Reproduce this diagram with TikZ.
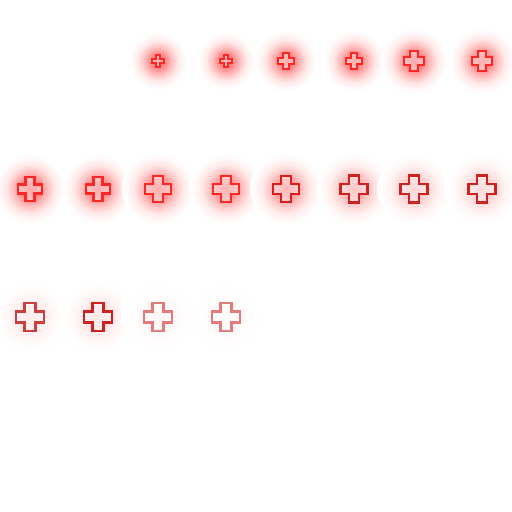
\documentclass[tikz,border=0pt]{standalone}
\usetikzlibrary{calc}
\definecolor{hotred}{RGB}{255,38,38}
\definecolor{midred}{RGB}{222,28,28}
\definecolor{darkred}{RGB}{204,34,34}
\definecolor{dullred}{RGB}{206,62,62}
\definecolor{palered}{RGB}{226,124,124}
\colorlet{glowc}{red}
\pgfdeclareradialshading[glowc]{glow}{\pgfpointorigin}{color(0bp)=(glowc); color(7bp)=(glowc!75!white); color(12bp)=(glowc!42!white); color(17bp)=(glowc!16!white); color(22bp)=(glowc!4!white); color(25bp)=(white); color(50bp)=(white)}
% glowing cross: x, y, size, glow strength, line colour
\newcommand{\glowcross}[5]{%
  \colorlet{glowc}{red!#4!white}
  \shade[shading=glow] (#1,#2) circle ({#3*0.5+23});
  \begin{scope}[shift={(#1,#2)}, scale=#3]
    \draw[line width=2.4pt, #5, fill=white, fill opacity=0.45, draw opacity=1]
      (-0.19,-0.5) -- (0.19,-0.5) -- (0.19,-0.19) -- (0.5,-0.19) -- (0.5,0.19) -- (0.19,0.19)
      -- (0.19,0.5) -- (-0.19,0.5) -- (-0.19,0.19) -- (-0.5,0.19) -- (-0.5,-0.19) -- (-0.19,-0.19) -- cycle;
  \end{scope}}

\begin{document}
\begin{tikzpicture}[x=1pt,y=-1pt]
  \useasboundingbox (0,0) rectangle (512,512);
  % first row
  \glowcross{158}{61}{12}{58}{hotred}
  \glowcross{226}{61}{12}{58}{hotred}
  \glowcross{286}{61}{16}{58}{hotred}
  \glowcross{354}{61}{16}{58}{hotred}
  \glowcross{414}{61}{20}{62}{hotred}
  \glowcross{482}{61}{20}{58}{hotred}
  % second row
  \glowcross{30}{189}{24}{62}{hotred}
  \glowcross{98}{189}{24}{58}{hotred}
  \glowcross{158}{189}{26}{58}{hotred}
  \glowcross{226}{189}{26}{54}{hotred}
  \glowcross{286}{189}{26}{50}{midred}
  \glowcross{354}{189}{27}{40}{darkred}
  \glowcross{414}{189}{27}{28}{darkred}
  \glowcross{482}{189}{27}{24}{darkred}
  % third row
  \glowcross{30}{317}{28}{13}{dullred}
  \glowcross{98}{317}{28}{16}{darkred}
  \glowcross{158}{317}{28}{5}{palered}
  \glowcross{226}{317}{28}{4}{palered}
\end{tikzpicture}
\end{document}
